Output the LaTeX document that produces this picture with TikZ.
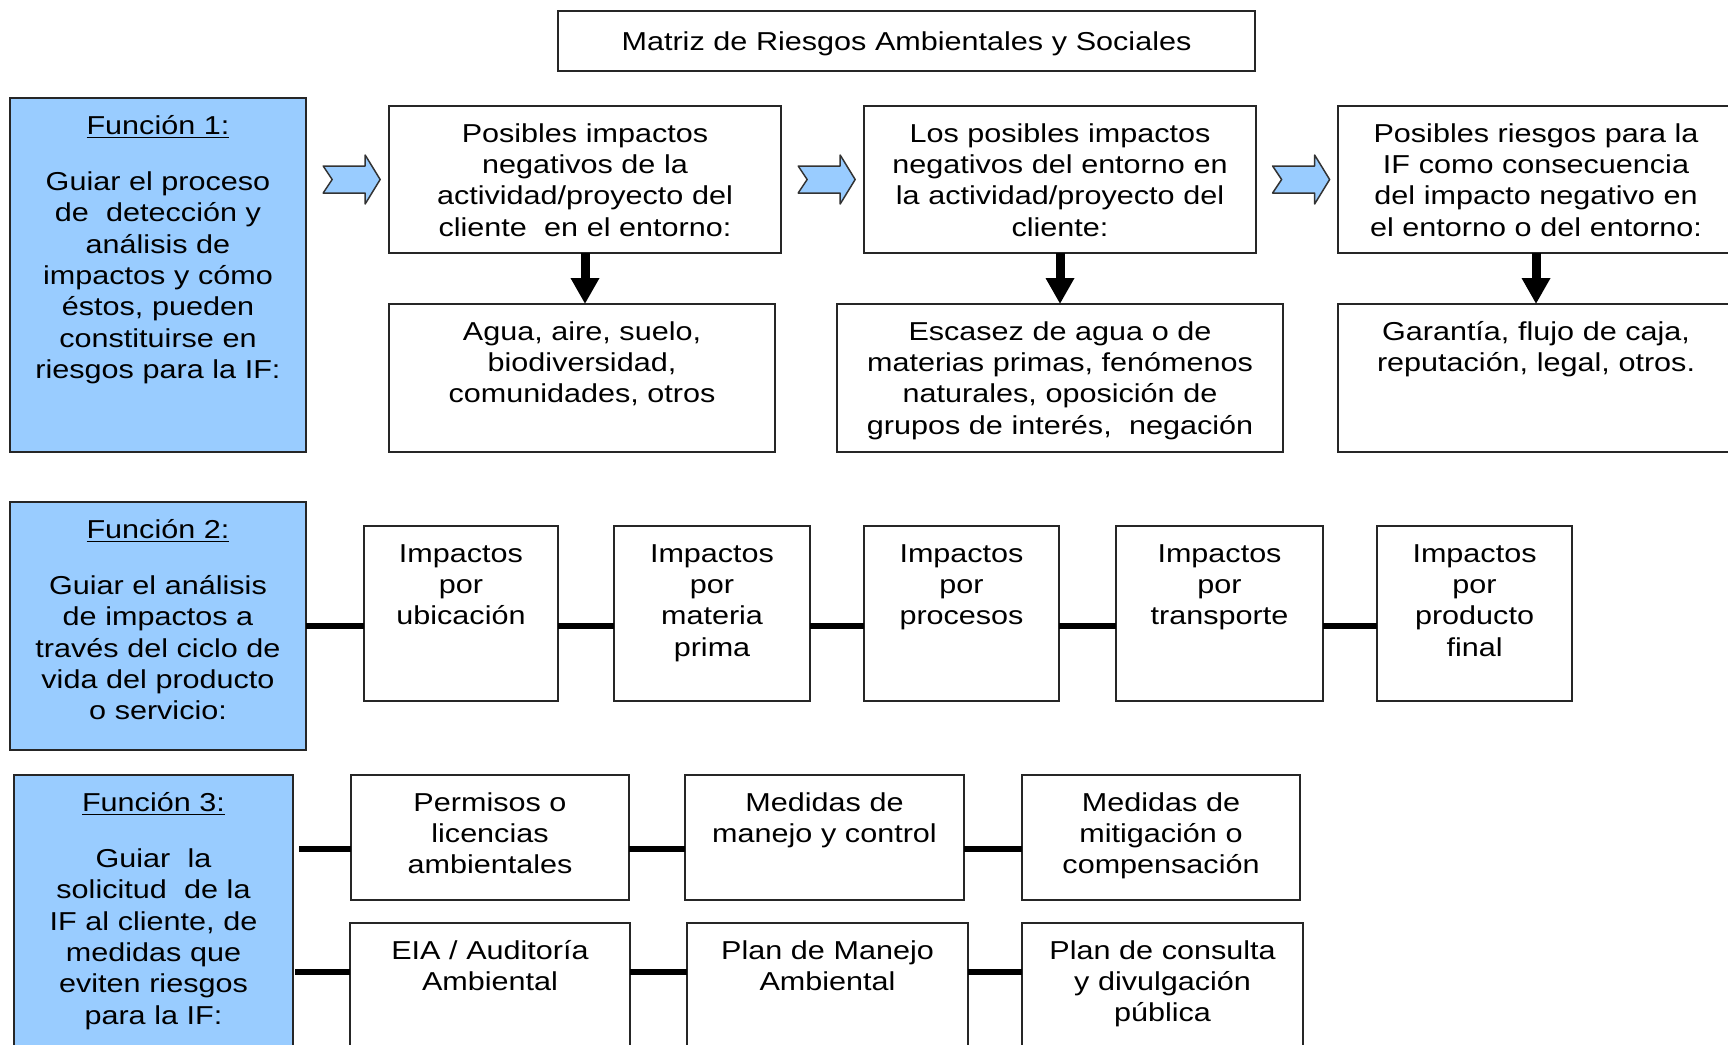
\documentclass[tikz,border=0pt]{standalone}
\usepackage{fontspec}
\setmainfont{Liberation Sans}[FakeStretch=1.18]
\usetikzlibrary{positioning,calc,arrows.meta}
\definecolor{funcblue}{HTML}{99CCFF}
\definecolor{edgegray}{HTML}{333333}

\begin{document}
\begin{tikzpicture}[
    x=0.5bp, y=-0.5bp,                 % 1 unidad = 1 pixel
    box/.style={
        draw=black!85,
        line width=0.9pt,
        inner sep=0pt,
        outer sep=0pt,
        align=center,
        text height=18bp,              % texto arriba
        anchor=north west,
        font=\fontsize{13}{15.75}\selectfont
    },
    funcbox/.style={box, fill=funcblue},
    bar/.style={line width=3.4pt},
    down/.style={-{Triangle[length=13bp,width=13.5bp]}, line width=4.5bp},
    bluearrow/.pic={
        \draw[fill=funcblue, draw=edgegray, line width=0.75pt, line join=round]
            (-28.5,-13.5) -- (13.5,-13.5) -- (13.5,-24.5) -- (28.5,0)
            -- (13.5,24.5) -- (13.5,13.5) -- (-28.5,13.5) -- (-19.5,0) -- cycle;
    }
]
\useasboundingbox (0,0) rectangle (1728,1044);

% titulo
\node[box, text width=348.5bp, text height=19.5bp, text depth=10.5bp] (titulo) at (558,11) {Matriz de Riesgos Ambientales y Sociales};

% funcion 1
\node[funcbox, text width=148bp, text depth=159bp] (f1) at (10,98) {\underline{Función 1:}\\[12.5pt] Guiar el proceso\\ de\ \ detección y\\ análisis de\\ impactos y cómo\\ éstos, pueden\\ constituirse en\\ riesgos para la IF:};
\node[box, text width=196bp, text depth=55.5bp] (a1) at (389,106) {Posibles impactos\\ negativos de la\\ actividad/proyecto del\\ cliente\ \ en el entorno:};
\node[box, text width=196bp, text depth=55.5bp, right=41.5bp of a1] (a2) {Los posibles impactos\\ negativos del entorno en\\ la actividad/proyecto del\\ cliente:};
\node[box, text width=198bp, text depth=55.5bp, right=41bp of a2] (a3) {Posibles riesgos para la\\ IF como consecuencia\\ del impacto negativo en\\ el entorno o del entorno:};
\node[box, text width=193bp, text depth=56bp, below=25.5bp of a1.south west, anchor=north west] (b1) {Agua, aire, suelo,\\ biodiversidad,\\ comunidades, otros};
\node[box, text width=223bp, text depth=56bp, below=25.5bp of a2] (b2) {Escasez de agua o de\\ materias primas, fenómenos\\ naturales, oposición de\\ grupos de interés,\ \ negación};
\node[box, text width=198bp, text depth=56bp, below=25.5bp of a3] (b3) {Garantía, flujo de caja,\\ reputación, legal, otros.};

\pic at ($(f1.east |- a1.west)!0.55!(a1.west)$) {bluearrow};
\pic at ($(a1.east)!0.55!(a2.west)$) {bluearrow};
\pic at ($(a2.east)!0.55!(a3.west)$) {bluearrow};
\draw[down] (a1.south) -- (a1.south |- b1.north);
\draw[down] (a2) -- (b2);
\draw[down] (a3) -- (b3);

% funcion 2
\node[funcbox, text width=148bp, text depth=106bp] (f2) at (10,502) {\underline{Función 2:}\\[12.5pt] Guiar el análisis\\ de impactos a\\ través del ciclo de\\ vida del producto\\ o servicio:};
\node[box, text width=97bp, text depth=69.5bp] (c1) at (364,526) {Impactos\\ por\\ ubicación};
\node[box, text width=98bp, text depth=69.5bp, right=28bp of c1] (c2) {Impactos\\ por\\ materia\\ prima};
\node[box, text width=97.5bp, text depth=69.5bp, right=27bp of c2] (c3) {Impactos\\ por\\ procesos};
\node[box, text width=103.5bp, text depth=69.5bp, right=28.5bp of c3] (c4) {Impactos\\ por\\ transporte};
\node[box, text width=97.5bp, text depth=69.5bp, right=27bp of c4] (c5) {Impactos\\ por\\ producto\\ final};

\draw[bar] (f2.east) -- (f2.east -| c1.west);
\draw[bar] (c1.east |- f2.east) -- (c2.west |- f2.east);
\draw[bar] (c2.east |- f2.east) -- (c3.west |- f2.east);
\draw[bar] (c3.east |- f2.east) -- (c4.west |- f2.east);
\draw[bar] (c4.east |- f2.east) -- (c5.west |- f2.east);

% funcion 3
\node[funcbox, text width=139.5bp, text depth=132bp] (f3) at (14,775) {\underline{Función 3:}\\[12.5pt] Guiar\ \ la\\ solicitud\ \ de la\\ IF al cliente, de\\ medidas que\\ eviten riesgos\\ para la IF:};
\node[box, text width=139bp, text depth=44.5bp] (d1) at (351,775) {Permisos o\\ licencias\\ ambientales};
\node[box, text width=139.5bp, text depth=44.5bp, right=28bp of d1] (d2) {Medidas de\\ manejo y control};
\node[box, text width=139bp, text depth=44.5bp, right=29bp of d2] (d3) {Medidas de\\ mitigación o\\ compensación};
\node[box, text width=140bp, text depth=62bp, below=11.5bp of d1] (e1) {EIA / Auditoría\\ Ambiental};
\node[box, text width=140.5bp, text depth=62bp, right=28.5bp of e1] (e2) {Plan de Manejo\\ Ambiental};
\node[box, text width=140.5bp, text depth=62bp, right=27bp of e2] (e3) {Plan de consulta\\ y divulgación\\ pública};

\coordinate (dlinea) at (0,849);
\coordinate (elinea) at (0,972);
\draw[bar] ($(f3.east |- dlinea)+(6,0)$) -- (d1.west |- dlinea);
\draw[bar] (d1.east |- dlinea) -- (d2.west |- dlinea);
\draw[bar] (d2.east |- dlinea) -- (d3.west |- dlinea);
\draw[bar] ($(f3.east |- elinea)+(2,0)$) -- (e1.west |- elinea);
\draw[bar] (e1.east |- elinea) -- (e2.west |- elinea);
\draw[bar] (e2.east |- elinea) -- (e3.west |- elinea);
\end{tikzpicture}
\end{document}
